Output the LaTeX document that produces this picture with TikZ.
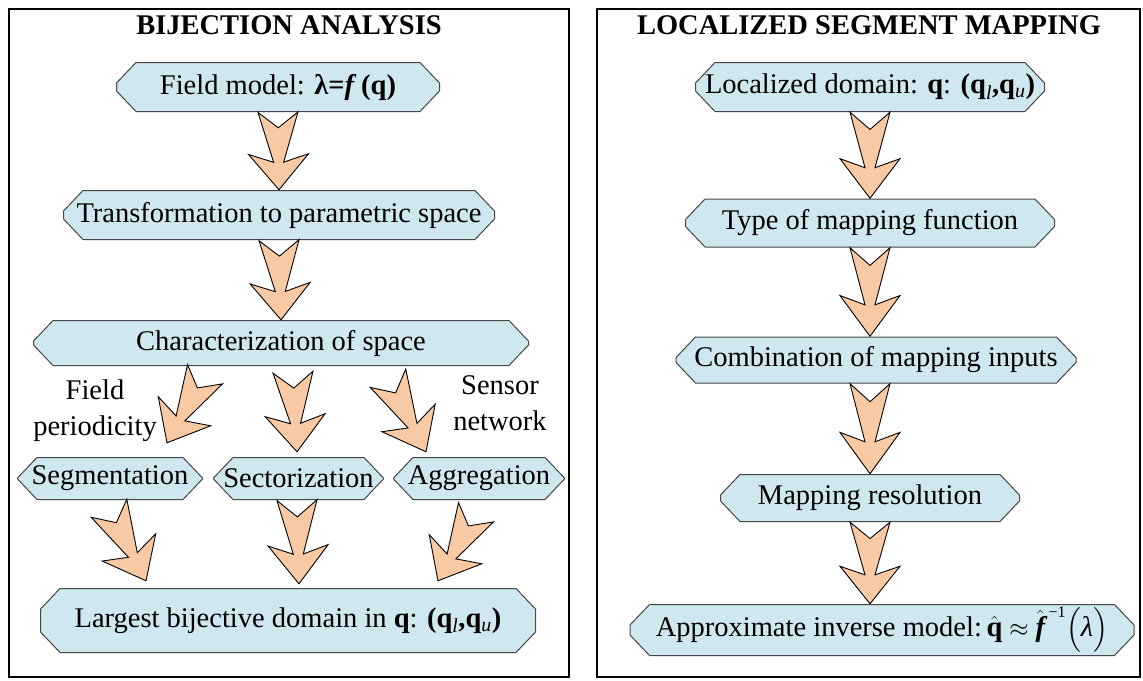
\documentclass[tikz,border=0pt]{standalone}
\usepackage{amsmath}
\usepackage{fontspec}
\setmainfont{Liberation Serif}
\usetikzlibrary{calc,positioning}

\definecolor{boxblue}{RGB}{207,231,238}
\definecolor{boxline}{RGB}{70,70,70}
\definecolor{arrowpeach}{RGB}{248,201,162}

\tikzset{
  stage/.style={inner sep=0pt, path picture={
    \filldraw[fill=boxblue, draw=boxline, line width=1pt]
      let \p1=(path picture bounding box.south west), \p2=(path picture bounding box.north east) in
      (\x1+20pt,\y2-.5pt) -- (\x2-20pt,\y2-.5pt) -- (\x2-.5pt,\y2-21pt) -- (\x2-.5pt,\y1+21pt)
      -- (\x2-20pt,\y1+.5pt) -- (\x1+20pt,\y1+.5pt) -- (\x1+.5pt,\y1+21pt) -- (\x1+.5pt,\y2-21pt) -- cycle;
  }},
  fatarr/.style={fill=arrowpeach, draw=black, line width=0.9pt, line join=miter},
  panel/.style={draw, line width=2.5pt},
  heading/.style={font=\fontsize{28.5pt}{36pt}\selectfont\bfseries},
  note/.style={align=center}
}

\newcommand\fatarrow[2]{%
  \draw[fatarr] ($(#1)!20pt!90:(#2)$) -- ($(#1)!.2!(#2)$) -- ($(#1)!20pt!-90:(#2)$)
    -- ($(#1)!.645!(#2)!5pt!-90:(#2)$) -- ($(#1)!.54!(#2)!30pt!-90:(#2)$) -- (#2)
    -- ($(#1)!.54!(#2)!30pt!90:(#2)$) -- ($(#1)!.645!(#2)!5pt!90:(#2)$) -- cycle;}

\begin{document}
\begin{tikzpicture}[
  x=1pt, y=-1pt,
  every node/.style={font=\fontsize{28.5pt}{36pt}\selectfont}
  ]
\useasboundingbox (0,0) rectangle (1143,680);

\draw[panel] (9,9) rectangle (569,677);
\draw[panel] (597,9) rectangle (1140,677);

\node[heading] (titleL) at (289,25) {BIJECTION ANALYSIS};
\node[heading] (titleR) at (869,25) {LOCALIZED SEGMENT MAPPING};

\node[stage, minimum width=324pt, minimum height=50pt] (fm) at (278,87)
  {Field model: \textbf{λ=\textit{f}\,(q)}};
\node[stage, minimum width=432pt, minimum height=50pt] (tr) at (279,215)
  {Transformation to parametric space};
\node[stage, minimum width=496pt, minimum height=46pt] (ch) at (281,343)
  {Characterization of space};
\node[stage, minimum width=186pt, minimum height=43pt] (seg) at (110,478.5) {Segmentation};
\node[stage, minimum width=171pt, minimum height=43pt] (sec) at (298.5,478.5) {Sectorization};
\node[stage, minimum width=172pt, minimum height=43pt] (agg) at (479,478.5) {Aggregation};
\node[stage, minimum width=496pt, minimum height=65pt] (lg) at (288,620.5)
  {Largest bijective domain in \textbf{q}: \textbf{(q}\textsubscript{\textit{l}}\textbf{,q}\textsubscript{\textit{u}}\textbf{)}};
\node[note] (fp) at (95,411) {Field\\periodicity};
\node[note] (sn) at (500,403) {Sensor\\network};

\node[stage, minimum width=350pt, minimum height=50pt] (ld) at (870,87)
  {Localized domain: \textbf{q}: \textbf{(q}\textsubscript{\textit{l}}\textbf{,q}\textsubscript{\textit{u}}\textbf{)}};
\node[stage, minimum width=370pt, minimum height=49pt] (tm) at (870,223)
  {Type of mapping function};
\node[stage, minimum width=401pt, minimum height=47pt] (cm) at (876,360)
  {Combination of mapping inputs};
\node[stage, minimum width=300pt, minimum height=48pt] (mr) at (870,498)
  {Mapping resolution};
\node[stage, minimum width=505pt, minimum height=52pt] (ap) at (882,630)
  {Approximate inverse model:\,$\hat{\mathbf{q}}\approx{\hat{\text{\bfseries\itshape f}}}^{\,\text{\fontsize{16pt}{16pt}\selectfont −1}}\Bigl(\text{\itshape λ}\Bigr)$};

\coordinate (chL) at ([xshift=-76pt,yshift=-8pt]ch.south);
\coordinate (chM) at ([xshift=12pt,yshift=-6pt]ch.south);
\coordinate (chR) at ([xshift=107pt,yshift=-12pt]ch.south);
\coordinate (segIn) at ([xshift=57pt,yshift=14pt]seg.north);
\coordinate (secIn) at ([xshift=-1.5pt,yshift=5pt]sec.north);
\coordinate (aggIn) at ([xshift=-53pt,yshift=5pt]agg.north);
\coordinate (segOut) at ([xshift=-1pt,yshift=-8pt]seg.south);
\coordinate (secOut) at ([xshift=-1.5pt]sec.south);
\coordinate (aggOut) at ([xshift=-3pt,yshift=-12pt]agg.south);
\coordinate (lgL) at ([xshift=-142pt,yshift=7pt]lg.north);
\coordinate (lgM) at ([xshift=11pt,yshift=4pt]lg.north);
\coordinate (lgR) at ([xshift=150pt,yshift=7pt]lg.north);
\coordinate (cmIn) at ([xshift=-6pt]cm.north);
\coordinate (cmOut) at ([xshift=-6pt]cm.south);
\coordinate (apIn) at ([xshift=-12pt]ap.north);

\fatarrow{fm.south}{tr.north}
\fatarrow{tr.south}{ch.north}
\fatarrow{chL}{segIn}
\fatarrow{chM}{secIn}
\fatarrow{chR}{aggIn}
\fatarrow{segOut}{lgL}
\fatarrow{secOut}{lgM}
\fatarrow{aggOut}{lgR}

\fatarrow{ld.south}{tm.north}
\fatarrow{tm.south}{cmIn}
\fatarrow{cmOut}{mr.north}
\fatarrow{mr.south}{apIn}

\end{tikzpicture}
\end{document}
